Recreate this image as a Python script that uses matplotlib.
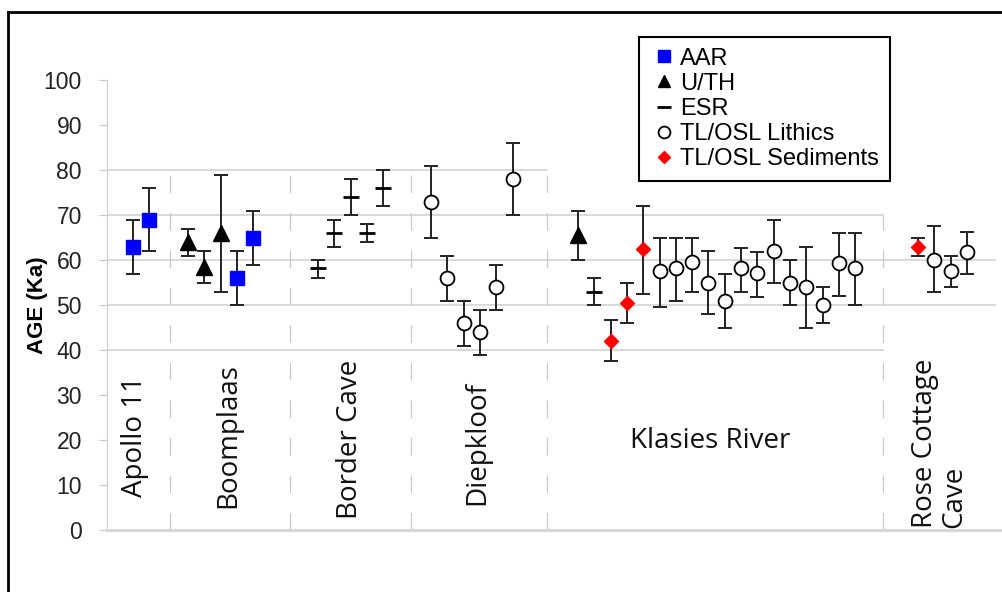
import matplotlib.pyplot as plt
import numpy as np
from matplotlib.lines import Line2D

plt.rcParams['font.family'] = ['Liberation Sans', 'DejaVu Sans']

# Dados por sítio: método, idade (ka), limite inferior e superior da barra de erro
apollo_method = ['AAR', 'AAR']
apollo_age = [63, 69]
apollo_lo = [57, 62]
apollo_hi = [69, 76]

boomplaas_method = ['U/TH', 'U/TH', 'U/TH', 'AAR', 'AAR']
boomplaas_age = [64, 58.5, 66, 56, 65]
boomplaas_lo = [61, 55, 53, 50, 59]
boomplaas_hi = [67, 62, 79, 62, 71]

border_method = ['ESR', 'ESR', 'ESR', 'ESR', 'ESR']
border_age = [58.3, 66, 74, 66, 76]
border_lo = [56, 63, 70, 64, 72]
border_hi = [60, 69, 78, 68, 80]

diepkloof_method = ['Lithics'] * 6
diepkloof_age = [73, 56, 46, 44, 54, 78]
diepkloof_lo = [65, 51, 41, 39, 49, 70]
diepkloof_hi = [81, 61, 51, 49, 59, 86]

klasies_method = ['U/TH', 'ESR', 'Sed', 'Sed', 'Sed'] + ['Lithics'] * 13
klasies_age = [65.5, 53, 42, 50.5, 62.5, 57.5, 58.3, 59.5, 55, 51, 58.3, 57.2, 62, 55, 54, 50, 59.3, 58.3]
klasies_lo = [60, 50, 37.5, 46, 52.5, 49.5, 51, 53, 48, 45, 53, 51.7, 55, 50, 45, 46, 52, 50]
klasies_hi = [71, 56, 46.7, 55, 72, 65, 65, 65, 62, 57, 62.6, 61.7, 69, 60, 63, 54, 66, 66]

rose_method = ['Sed', 'Lithics', 'Lithics', 'Lithics']
rose_age = [63, 60, 57.5, 61.7]
rose_lo = [61, 53, 54, 57]
rose_hi = [65, 67.5, 61, 66.3]

site_names = ['Apollo 11', 'Boomplaas', 'Border Cave', 'Diepkloof', 'Klasies River', 'Rose Cottage\nCave']
site_data = [
    (apollo_method, apollo_age, apollo_lo, apollo_hi),
    (boomplaas_method, boomplaas_age, boomplaas_lo, boomplaas_hi),
    (border_method, border_age, border_lo, border_hi),
    (diepkloof_method, diepkloof_age, diepkloof_lo, diepkloof_hi),
    (klasies_method, klasies_age, klasies_lo, klasies_hi),
    (rose_method, rose_age, rose_lo, rose_hi),
]

legend_keys = ['AAR', 'U/TH', 'ESR', 'Lithics', 'Sed']
legend_labels = ['AAR', 'U/TH', 'ESR', 'TL/OSL Lithics', 'TL/OSL Sediments']

# Layout (em "slots": um ponto por slot)
site_start = [1.6, 4.97, 12.94, 19.88, 28.9, 49.75]
separators = [(3.87, 80), (11.2, 80), (18.65, 80), (27.0, 80), (47.6, 70)]
gridlines = [(80, 27.0), (70, 47.6), (60, 54.5), (50, 54.5), (40, 47.6)]
label_pos = [(1.72, 20.7, 90), (7.42, 20.9, 90), (14.9, 20.2, 90), (22.7, 19.3, 90),
             (37.0, 18.2, 0), (51.1, 19.3, 90)]

styles = {
    'AAR': dict(marker='s', color='#0000ff', mfc='#0000ff', mec='#0000ff', ms=9.5),
    'U/TH': dict(marker='^', color='black', mfc='black', mec='black', ms=11),
    'ESR': dict(marker='_', color='black', mec='black', ms=12, mew=2),
    'Lithics': dict(marker='o', color='black', mfc='white', mec='black', ms=10, mew=1.3),
    'Sed': dict(marker='D', color='#ff0000', mfc='#ff0000', mec='#ff0000', ms=7.5),
}

fig = plt.figure(figsize=(10.03, 5.92), dpi=100)
ax = fig.add_axes([107/1003, 62/592, 893/1003, 450/592])
ax.set_xlim(0, 893/16.3)
ax.set_ylim(0, 100)

for y, xend in gridlines:
    ax.plot([0, xend], [y, y], color='#d0d0d0', lw=1.1, zorder=0)
for xs, ytop in separators:
    ax.plot([xs, xs], [0, ytop], color='#c8c8c8', lw=0.9, dashes=(14, 16), zorder=0)

for start, (meth, age, lo, hi) in zip(site_start, site_data):
    age = np.array(age)
    x = start + np.arange(len(age))
    yerr = [age - np.array(lo), np.array(hi) - age]
    ax.errorbar(x, age, yerr=yerr, fmt='none', ecolor='#222222', elinewidth=1.4,
                capsize=4.7, capthick=1.4, zorder=2)
    for xi, ai, m in zip(x, age, meth):
        ax.plot(xi, ai, ls='none', zorder=3, **styles[m])

for name, (lx, ly, rot) in zip(site_names, label_pos):
    if rot:
        ax.text(lx, ly, name, rotation=90, ha='center', va='center', multialignment='left',
                fontsize=20, family='Open Sans', color='#111111', linespacing=1.05)
    else:
        ax.text(lx, ly, name, ha='center', va='baseline', fontsize=20,
                family='Open Sans', color='#111111')

for s in ['top', 'right']:
    ax.spines[s].set_visible(False)
ax.spines['left'].set_color('#cccccc')
ax.spines['left'].set_linewidth(0.8)
ax.spines['bottom'].set_color('#d8d8d8')
ax.spines['bottom'].set_linewidth(2.2)
ax.set_xticks([])
ax.set_yticks(range(0, 101, 10))
ax.tick_params(axis='y', length=6, color='#c8c8c8', pad=12, labelsize=16.5, labelcolor='#222222')

fig.text(38/1003, 1 - 305/592, 'AGE (Ka)', rotation=90, ha='center', va='center',
         fontsize=16, fontweight='bold')

handles = []
for key in legend_keys:
    st = dict(styles[key])
    st['ms'] = st['ms'] * 0.85
    handles.append(Line2D([], [], ls='none', **st))
leg = fig.legend(handles, legend_labels,
                 loc='upper left', bbox_to_anchor=(639/1003, 1 - 37/592), borderaxespad=0,
                 fontsize=17, handlelength=1.2, handletextpad=0.1, labelspacing=0.13,
                 borderpad=0.45, fancybox=False, framealpha=1, edgecolor='black')
leg.get_frame().set_linewidth(1.5)

fig.add_artist(Line2D([8/1003, 8/1003], [0, 1 - 12/592], transform=fig.transFigure, color='black', lw=2))
fig.add_artist(Line2D([8/1003, 1], [1 - 12/592, 1 - 12/592], transform=fig.transFigure, color='black', lw=2))

plt.savefig('out.png', dpi=100)
